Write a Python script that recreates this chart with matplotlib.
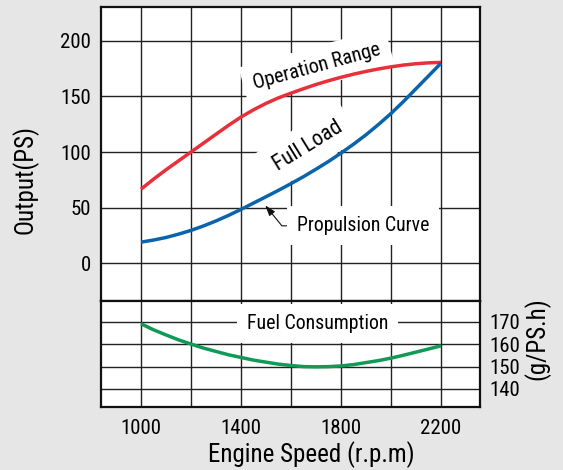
import matplotlib
matplotlib.use("Agg")
import matplotlib.pyplot as plt

# engine speed (rpm) at which the curves were read
speed = [1000, 1050, 1100, 1150, 1200, 1250, 1300, 1350, 1400, 1450, 1500, 1550, 1600,
         1650, 1700, 1750, 1800, 1850, 1900, 1950, 2000, 2050, 2100, 2150, 2200]

# output (PS)
operation_range = [66.5, 75.5, 84.0, 92.0, 100.0, 108.0, 116.0, 124.0, 131.5, 138.0, 143.8, 148.8, 153.0,
                   157.0, 160.8, 164.2, 167.3, 170.1, 172.6, 174.8, 176.7, 178.3, 179.5, 180.3, 180.7]
full_load = [18.8, 20.7, 23.0, 26.0, 29.4, 33.4, 37.9, 42.9, 48.3, 54.0, 59.7, 65.5, 71.5,
             77.8, 84.5, 91.5, 99.0, 107.0, 115.5, 124.8, 134.7, 145.5, 157.0, 168.5, 180.0]

# fuel consumption (g/PS.h)
fuel = [169.2, 166.5, 164.2, 162.0, 160.1, 158.3, 156.8, 155.3, 154.1, 152.9, 152.0, 151.1, 150.5,
        150.0, 149.9, 150.0, 150.3, 150.9, 151.8, 152.7, 153.8, 155.1, 156.5, 157.9, 159.3]

x_ticks = [1000, 1200, 1400, 1600, 1800, 2000, 2200]
x_tick_labels = ["1000", "", "1400", "", "1800", "", "2200"]
out_ticks = [0, 50, 100, 150, 200]
fuel_ticks = [140, 150, 160, 170]

# narrow sans, closest to the condensed Helvetica of the original
plt.rcParams["font.family"] = ["Roboto Condensed", "Archivo Narrow", "DejaVu Sans"]

RED = "#e8303a"
BLUE = "#0a64ac"
GREEN = "#0f9a55"
GRID = "#222222"
BG = "#e6e6e6"

fig = plt.figure(figsize=(5.63, 4.70), dpi=100, facecolor=BG)
left, width = 101 / 563, 379 / 563
ax = fig.add_axes([left, 1 - 301 / 470, width, 294 / 470])
ax2 = fig.add_axes([left, 1 - 407 / 470, width, 106 / 470])

for a in (ax, ax2):
    a.set_xlim(840, 2356)
    a.set_xticks(x_ticks)
    a.grid(True, color=GRID, lw=1.0)
    a.set_axisbelow(True)
    for s in a.spines.values():
        s.set_linewidth(1.6)
        s.set_color("#111111")

# upper panel: output
ax.set_ylim(-34.2, 230.6)
ax.set_yticks(out_ticks)
ax.tick_params(axis="x", length=0, labelbottom=False)
ax.tick_params(axis="y", length=0, pad=7, labelsize=15)
ax.plot(speed, operation_range, color=RED, lw=2.5, zorder=5, solid_capstyle="butt")
ax.plot(speed, full_load, color=BLUE, lw=2.5, zorder=5, solid_capstyle="butt")
ax.set_ylabel("Output(PS)", fontsize=18)
ax.yaxis.set_label_coords(-0.2005, 0.4116)
ax.yaxis.label.set_va("center")

box = dict(boxstyle="square,pad=0.5", fc="white", ec="none")
ax.text(1703, 177, "Operation Range", rotation=15.3, ha="center", va="center",
        fontsize=14.5, bbox=box, zorder=3)
ax.text(1667, 105.4, "Full Load", rotation=31.7, ha="center", va="center",
        fontsize=15.5, bbox=box, zorder=3)
ax.annotate("Propulsion Curve", xy=(1497, 52), xytext=(1624, 33.5),
            ha="left", va="center", fontsize=14.2, bbox=box, zorder=3,
            arrowprops=dict(arrowstyle="-|>,head_length=0.45,head_width=0.15",
                            color="#111111", lw=0.8, shrinkA=0, shrinkB=0,
                            relpos=(0, 0.5),
                            connectionstyle="angle,angleA=180,angleB=129,rad=0"))

# lower panel: fuel consumption
ax2.set_ylim(131.9, 179.4)
ax2.set_yticks(fuel_ticks)
ax2.set_xticklabels(x_tick_labels)
ax2.tick_params(axis="x", length=0, pad=9, labelsize=15)
ax2.tick_params(axis="y", length=0, pad=7, labelsize=15,
                left=False, labelleft=False, right=True, labelright=True)
ax2.plot(speed, fuel, color=GREEN, lw=2.5, zorder=5, solid_capstyle="butt")
ax2.text(1706, 169.3, "Fuel Consumption", ha="center", va="center",
         fontsize=14.3, bbox=box, zorder=3)
ax2.set_xlabel("Engine Speed (r.p.m)", fontsize=18)
ax2.xaxis.set_label_coords(0.555, -0.45)
ax2.xaxis.label.set_va("center")
ax2.yaxis.set_label_position("right")
ax2.set_ylabel("(g/PS.h)", fontsize=18)
ax2.yaxis.set_label_coords(1.150, 0.6415)
ax2.yaxis.label.set_va("center")

fig.savefig("out.png", dpi=100, facecolor=BG)
